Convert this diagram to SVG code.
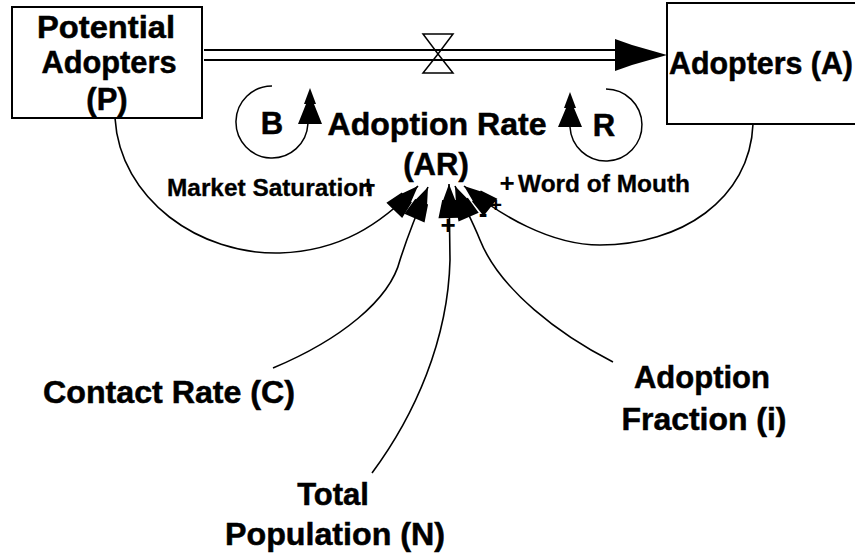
<svg xmlns="http://www.w3.org/2000/svg" width="855" height="556" viewBox="0 0 855 556">
  <style>
    .lbl { font-family: "Liberation Sans", Arial, sans-serif; font-weight: bold; fill: #000; stroke: #000; stroke-width: 0.5; text-anchor: middle; }
    .big { font-size: 31px; }
    .small { font-size: 23px; stroke-width: 0.3; }
    .sign { font-family: "Liberation Sans", Arial, sans-serif; font-weight: bold; font-size: 26px; fill: #000; text-anchor: middle; }
    .sign.tiny { font-size: 21px; }
    .stock { fill: #fff; stroke: #000; stroke-width: 2; }
    .link { fill: none; stroke: #000; stroke-width: 1.6; marker-end: url(#ah); }
    .loop { fill: none; stroke: #000; stroke-width: 1.5; }
    .pipe { fill: none; stroke: #000; stroke-width: 1.8; }
  </style>
  <defs>
    <marker id="ah" markerUnits="userSpaceOnUse" markerWidth="40" markerHeight="28" viewBox="-36 -14 40 28" refX="0" refY="0" orient="auto">
      <path d="M0,0 L-16,-6 L-16,-7 L-34,-11 L-34,11 L-16,7 L-16,6 Z" fill="#000"/>
    </marker>
  </defs>

  <rect width="855" height="556" fill="#fff"/>

  <!-- Flow pipe with valve -->
  <g id="flow">
    <line class="pipe" x1="204" y1="50" x2="616" y2="50"/>
    <line class="pipe" x1="204" y1="60" x2="616" y2="60"/>
    <path d="M615,39 L632,45 L667,55 L632,65 L615,71 Z" fill="#000"/>
    <path d="M423,34 L453,34 L438,54 Z M423,73 L453,73 L438,54 Z" fill="none" stroke="#000" stroke-width="1.5"/>
  </g>

  <!-- Stocks -->
  <g id="potential-adopters">
    <rect class="stock" x="12" y="7" width="190" height="111"/>
    <text class="lbl big" x="106" y="38" textLength="138" lengthAdjust="spacingAndGlyphs">Potential</text>
    <text class="lbl big" x="109" y="73" textLength="135" lengthAdjust="spacingAndGlyphs">Adopters</text>
    <text class="lbl big" x="107" y="110">(P)</text>
  </g>

  <g id="adopters">
    <rect class="stock" x="667" y="3" width="200" height="121"/>
    <text class="lbl big" x="761" y="74" textLength="184" lengthAdjust="spacingAndGlyphs">Adopters (A)</text>
  </g>

  <!-- Flow rate -->
  <g id="adoption-rate">
    <text class="lbl big" x="437" y="135" textLength="219" lengthAdjust="spacingAndGlyphs">Adoption Rate</text>
    <text class="lbl big" x="436" y="175">(AR)</text>
  </g>

  <!-- Auxiliaries -->
  <g id="contact-rate">
    <text class="lbl big" x="169" y="403" textLength="252" lengthAdjust="spacingAndGlyphs">Contact Rate (C)</text>
  </g>
  <g id="total-population">
    <text class="lbl big" x="333" y="505">Total</text>
    <text class="lbl big" x="335" y="545" textLength="220" lengthAdjust="spacingAndGlyphs">Population (N)</text>
  </g>
  <g id="adoption-fraction">
    <text class="lbl big" x="702" y="388">Adoption</text>
    <text class="lbl big" x="704" y="430" textLength="165" lengthAdjust="spacingAndGlyphs">Fraction (i)</text>
  </g>

  <!-- Feedback loop markers -->
  <g id="loop-b">
    <path class="loop" d="M272,86 A36,36 0 1 0 307.9,124"/>
    <path d="M310,88 L304,104 L306,104 L298,124 L322,124 L314,104 L316,104 Z" fill="#000"/>
    <text class="lbl big" x="272" y="134">B</text>
  </g>
  <g id="loop-r">
    <path class="loop" d="M606,89 A36,36 0 1 1 570,127"/>
    <path d="M570,92 L564,108 L566,108 L558,127 L582,127 L574,108 L576,108 Z" fill="#000"/>
    <text class="lbl big" x="604" y="136">R</text>
  </g>

  <!-- Causal links -->
  <g id="connectors">
    <path class="link" d="M115,118 C120,200 200,255 280,253 C340,251 380,225 418,186"/>
    <path class="link" d="M273,368 C340,340 390,300 400,260 C408,235 418,210 428,187"/>
    <path class="link" d="M372,473 C415,415 448,340 450,260 L449,184"/>
    <path class="link" d="M613,362 C560,335 500,290 480,240 C472,220 462,202 455,186"/>
    <path class="link" d="M753,124 C750,200 680,245 600,245 C550,245 500,215 464,186"/>
  </g>

  <!-- Link labels and polarities -->
  <g id="link-labels">
    <text class="lbl small" x="270" y="196" textLength="206" lengthAdjust="spacingAndGlyphs">Market Saturation</text>
    <text class="lbl small" x="604" y="192" textLength="172" lengthAdjust="spacingAndGlyphs">Word of Mouth</text>
    <text class="sign" x="368" y="194">+</text>
    <text class="sign" x="507" y="192">+</text>
    <text class="sign tiny" x="496" y="212">+</text>
    <text class="sign" x="448" y="234">+</text>
    <text class="sign" x="483" y="222">-</text>
  </g>
</svg>
